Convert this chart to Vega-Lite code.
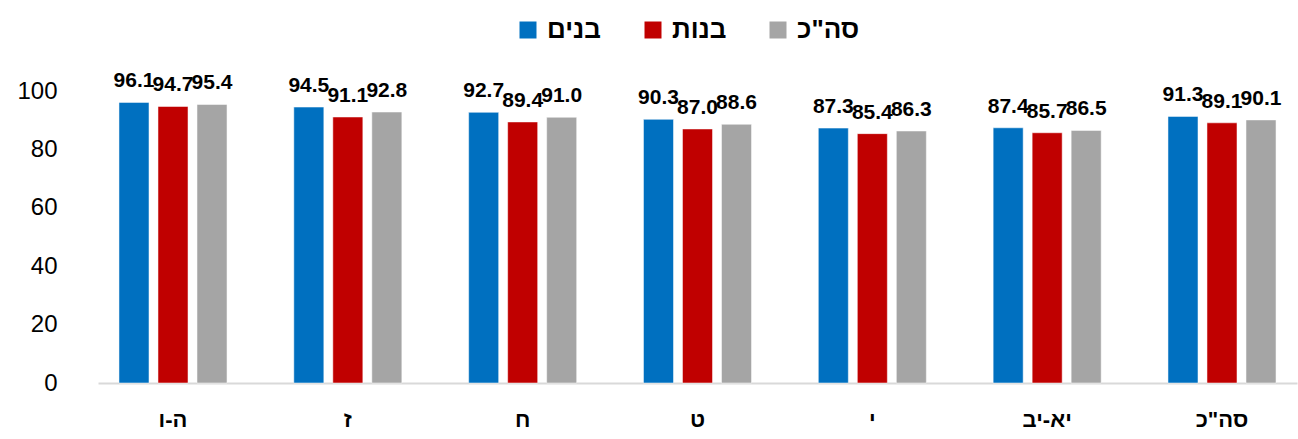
{
  "$schema": "https://vega.github.io/schema/vega-lite/v6.json",
  "autosize": {"type": "none"},
  "padding": {"left": 98, "top": 91, "right": 1, "bottom": 56},
  "width": 1199,
  "height": 292,
  "background": "white",
  "config": {
    "view": {"stroke": null},
    "font": "Liberation Sans",
    "axis": {"labelFont": "Liberation Sans"},
    "legend": {"labelFont": "Liberation Sans"}
  },
  "data": {
    "values": [
      {"grade": "ה-ו", "group": "בנים", "value": 96.1},
      {"grade": "ה-ו", "group": "בנות", "value": 94.7},
      {"grade": "ה-ו", "group": "סה\"כ", "value": 95.4},
      {"grade": "ז", "group": "בנים", "value": 94.5},
      {"grade": "ז", "group": "בנות", "value": 91.1},
      {"grade": "ז", "group": "סה\"כ", "value": 92.8},
      {"grade": "ח", "group": "בנים", "value": 92.7},
      {"grade": "ח", "group": "בנות", "value": 89.4},
      {"grade": "ח", "group": "סה\"כ", "value": 91.0},
      {"grade": "ט", "group": "בנים", "value": 90.3},
      {"grade": "ט", "group": "בנות", "value": 87.0},
      {"grade": "ט", "group": "סה\"כ", "value": 88.6},
      {"grade": "י", "group": "בנים", "value": 87.3},
      {"grade": "י", "group": "בנות", "value": 85.4},
      {"grade": "י", "group": "סה\"כ", "value": 86.3},
      {"grade": "יא-יב", "group": "בנים", "value": 87.4},
      {"grade": "יא-יב", "group": "בנות", "value": 85.7},
      {"grade": "יא-יב", "group": "סה\"כ", "value": 86.5},
      {"grade": "סה\"כ", "group": "בנים", "value": 91.3},
      {"grade": "סה\"כ", "group": "בנות", "value": 89.1},
      {"grade": "סה\"כ", "group": "סה\"כ", "value": 90.1}
    ]
  },
  "encoding": {
    "x": {
      "field": "grade", "type": "nominal", "sort": null,
      "scale": {"paddingInner": 0.382, "paddingOuter": 0.12},
      "axis": {
        "title": null, "labelAngle": 0, "ticks": false,
        "domainColor": "#D9D9D9", "domainWidth": 2,
        "labelFontSize": 22, "labelFontWeight": "bold", "labelColor": "#000000",
        "labelPadding": 26
      }
    },
    "xOffset": {
      "field": "group", "type": "nominal",
      "sort": ["בנים", "בנות", "סה\"כ"],
      "scale": {"paddingInner": 0.23, "paddingOuter": 0}
    },
    "y": {
      "field": "value", "type": "quantitative",
      "scale": {"domain": [0, 100]},
      "axis": {
        "title": null, "values": [0, 20, 40, 60, 80, 100], "ticks": false, "domain": false, "grid": false,
        "labelFontSize": 24, "labelColor": "#000000", "labelPadding": 41
      }
    }
  },
  "layer": [
    {
      "mark": {"type": "bar", "stroke": "#ffffff", "strokeOpacity": 0.5, "strokeWidth": 1},
      "encoding": {
        "color": {
          "field": "group", "type": "nominal",
          "scale": {"domain": ["בנים", "בנות", "סה\"כ"], "range": ["#0070C0", "#C00000", "#A5A5A5"]},
          "legend": {
            "title": null, "orient": "none", "direction": "horizontal",
            "legendX": 417, "legendY": -74,
            "symbolType": "square", "symbolSize": 289, "symbolStrokeWidth": 0,
            "labelFontSize": 26, "labelFontWeight": "bold", "labelColor": "#000000",
            "labelOffset": 6, "columnPadding": 30, "gridAlign": "all"
          }
        }
      }
    },
    {
      "mark": {"type": "text", "baseline": "alphabetic", "dy": -15, "fontSize": 21, "fontWeight": "bold", "color": "#000000"},
      "encoding": {
        "text": {"field": "value", "type": "quantitative", "format": ".1f"}
      }
    }
  ]
}
